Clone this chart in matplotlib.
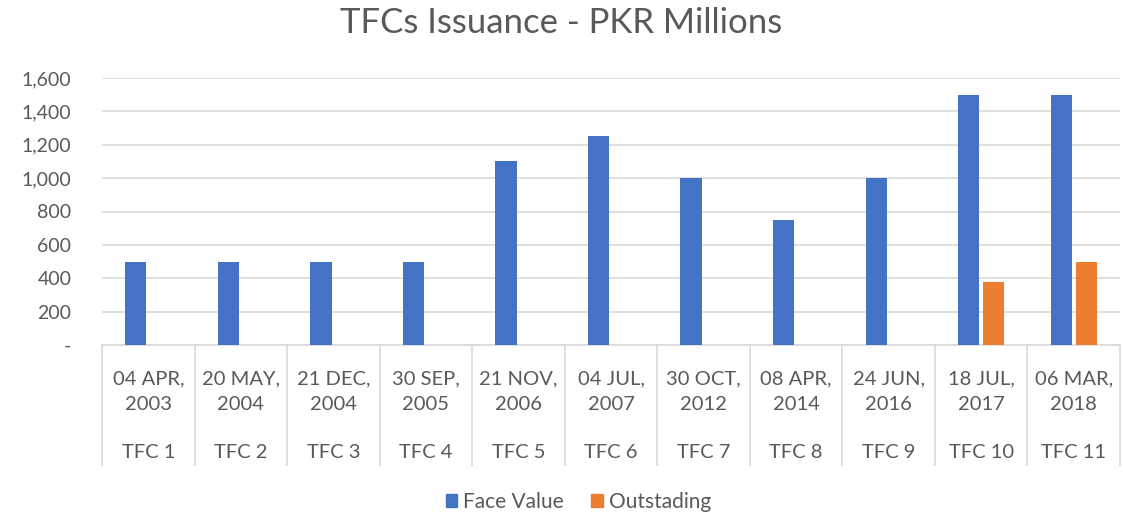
import numpy as np
import matplotlib.pyplot as plt
import matplotlib.transforms as mtransforms

plt.rcParams['font.family'] = ['Lato', 'DejaVu Sans']

tfcs = ['TFC 1', 'TFC 2', 'TFC 3', 'TFC 4', 'TFC 5', 'TFC 6',
        'TFC 7', 'TFC 8', 'TFC 9', 'TFC 10', 'TFC 11']
dates = ['04 APR,\n2003', '20 MAY,\n2004', '21 DEC,\n2004', '30 SEP,\n2005',
         '21 NOV,\n2006', '04 JUL,\n2007', '30 OCT,\n2012', '08 APR,\n2014',
         '24 JUN,\n2016', '18 JUL,\n2017', '06 MAR,\n2018']
face_value = [500, 500, 500, 500, 1100, 1250, 1000, 750, 1000, 1500, 1500]
outstanding = [0, 0, 0, 0, 0, 0, 0, 0, 0, 375, 500]
yticks = [0, 200, 400, 600, 800, 1000, 1200, 1400, 1600]

blue = '#4472C4'
orange = '#ED7D31'
grey_txt = '#595959'
grid_c = '#D9D9D9'

W, H = 1123, 514
fig = plt.figure(figsize=(W / 100, H / 100), dpi=100)
ax = fig.add_axes([102 / W, 1 - 345 / H, (1120 - 102) / W, (345 - 78) / H])

x = np.arange(len(tfcs))
bw = 0.23
ax.bar(x - 0.135, face_value, bw, color=blue, zorder=3)
ax.bar(x + 0.135, outstanding, bw, color=orange, zorder=3)

ax.set_xlim(-0.5, len(tfcs) - 0.5)
ax.set_ylim(0, 1600)
ax.set_yticks(yticks)
ax.set_yticklabels(['-' if v == 0 else f'{v:,}' for v in yticks],
                   fontsize=14, color=grey_txt)
ax.tick_params(axis='y', length=0, pad=22)
ax.set_xticks([])
ax.yaxis.grid(True, color=grid_c, linewidth=1.2, zorder=0)
for s in ['top', 'right', 'left']:
    ax.spines[s].set_visible(False)
ax.spines['bottom'].set_color(grid_c)
ax.spines['bottom'].set_linewidth(1.2)

# multi-level category axis
trans = mtransforms.blended_transform_factory(ax.transData, ax.transAxes)
depth = (465 - 345) / (345 - 78)
for b in np.arange(len(tfcs) + 1) - 0.5:
    ax.plot([b, b], [0, -depth], transform=trans, color=grid_c,
            linewidth=1.2, clip_on=False)
for i in x:
    ax.text(i, -(392 - 345) / 267, dates[i], transform=trans, ha='center',
            va='center', fontsize=14.5, color=grey_txt, linespacing=1.6)
    ax.text(i, -(452 - 345) / 267, tfcs[i], transform=trans, ha='center',
            va='center', fontsize=14.5, color=grey_txt)

fig.text(0.5, 1 - 23 / H, 'TFCs Issuance - PKR Millions', ha='center',
         va='center', fontsize=25, color=grey_txt)

handles = [plt.Rectangle((0, 0), 1, 1, color=blue),
           plt.Rectangle((0, 0), 1, 1, color=orange)]
fig.legend(handles, ['Face Value', 'Outstading'], loc='center',
           bbox_to_anchor=(0.515, 1 - 502 / H), ncol=2, frameon=False,
           fontsize=15, labelcolor=grey_txt, handlelength=0.55,
           handleheight=0.55, handletextpad=0.3, columnspacing=1.3)

plt.savefig('out.png', dpi=100)
